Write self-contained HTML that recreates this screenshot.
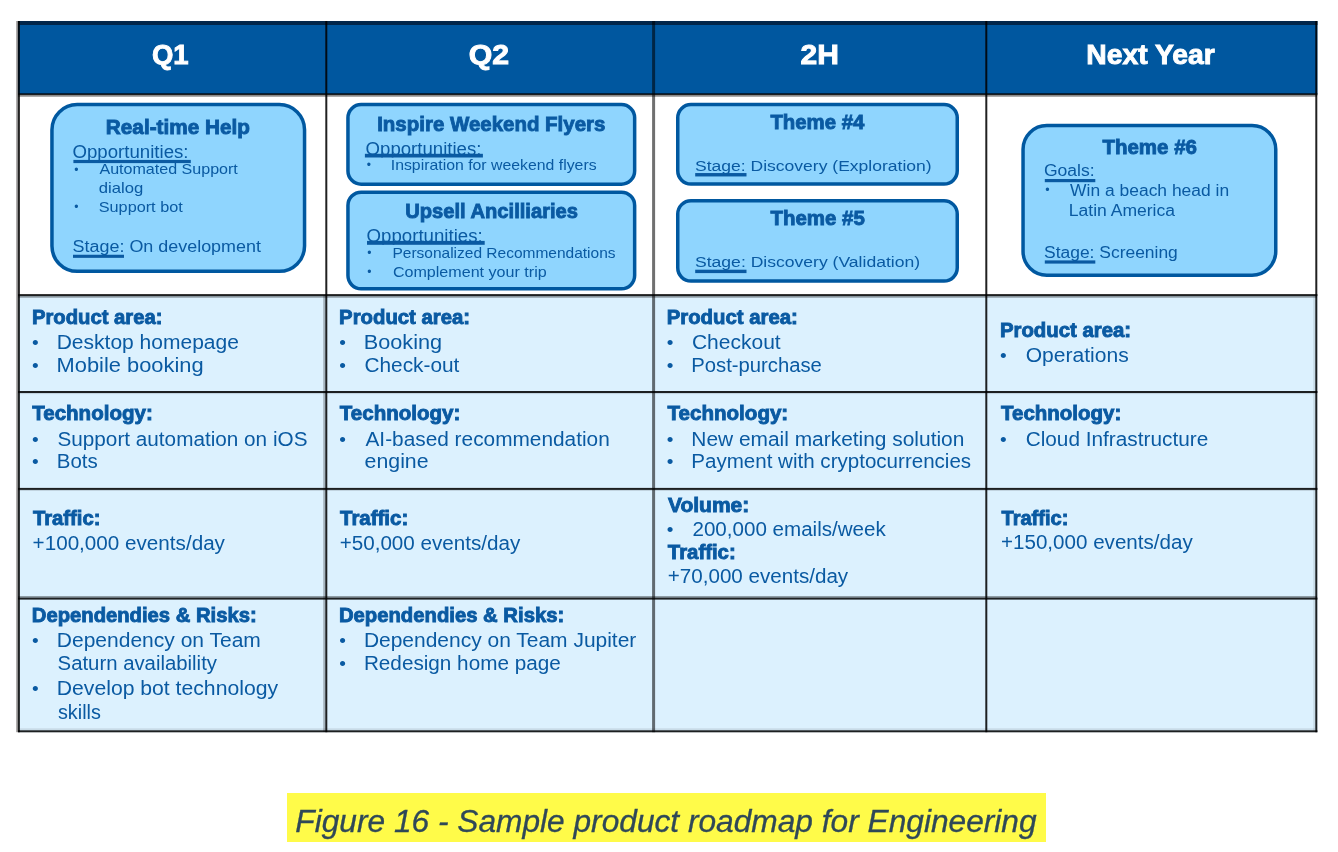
<!DOCTYPE html>
<html lang="en">
<head>
<meta charset="utf-8">
<title>Figure 16 - Sample product roadmap for Engineering</title>
<style>
html,body{margin:0;padding:0;background:#fff;}
body{width:1338px;height:852px;position:relative;overflow:hidden;font-family:"Liberation Sans",Arial,Helvetica,sans-serif;color:#0a5aa2;}
svg.g{position:absolute;left:0;top:0;}
.t{position:absolute;left:0;top:0;white-space:pre;line-height:1;transform-origin:0 0;}
.b{font-weight:700;-webkit-text-stroke:0.9px currentColor;}
.r{font-weight:400;}
.i{font-style:italic;font-weight:400;-webkit-text-stroke:0.3px currentColor;}
.cap{position:absolute;left:287px;top:793px;width:759px;height:48.6px;background:#fffb49;}
</style>
</head>
<body>
<svg class="g" width="1338" height="852" viewBox="0 0 1338 852">
<rect x="18" y="21" width="1299.4" height="73.3" fill="#00579f"/>
<rect x="18" y="94.3" width="1299.4" height="200.8" fill="#ffffff"/>
<rect x="18" y="295.1" width="1299.4" height="437.1" fill="#dcf1fe"/>
<rect x="51.95" y="104.55" width="252.60" height="166.80" rx="25.25" ry="25.25" fill="#8fd5fe" stroke="#0058a0" stroke-width="3.5"/>
<rect x="347.95" y="104.55" width="286.70" height="79.60" rx="13.25" ry="13.25" fill="#8fd5fe" stroke="#0058a0" stroke-width="3.5"/>
<rect x="347.95" y="192.15" width="286.70" height="96.70" rx="13.25" ry="13.25" fill="#8fd5fe" stroke="#0058a0" stroke-width="3.5"/>
<rect x="677.75" y="104.55" width="279.50" height="79.50" rx="13.25" ry="13.25" fill="#8fd5fe" stroke="#0058a0" stroke-width="3.5"/>
<rect x="677.75" y="200.75" width="279.50" height="80.30" rx="13.25" ry="13.25" fill="#8fd5fe" stroke="#0058a0" stroke-width="3.5"/>
<rect x="1023.05" y="125.45" width="252.70" height="149.70" rx="23.75" ry="23.75" fill="#8fd5fe" stroke="#0058a0" stroke-width="3.5"/>
<rect x="16.2" y="21" width="1.8" height="711.2" fill="#9c9a9a"/>
<rect x="18" y="95.2" width="1299" height="1.8" fill="#000" opacity=".32"/>
<rect x="18" y="296.0" width="1299" height="1.8" fill="#000" opacity=".32"/>
<rect x="18" y="392.9" width="1299" height="1.2" fill="#000" opacity=".12"/>
<rect x="18" y="489.79999999999995" width="1299" height="1.2" fill="#000" opacity=".12"/>
<rect x="18" y="596.0" width="1299" height="1.7" fill="#000" opacity=".35"/>
<rect x="323.2" y="295" width="2.2" height="437" fill="#000" opacity=".25"/>
<rect x="1313.2" y="295" width="2.1" height="436" fill="#000" opacity=".09"/>
<rect x="20" y="728.3" width="1295" height="2.1" fill="#000" opacity=".09"/>
<rect x="18" y="21" width="1299.4" height="4" fill="#02264a"/>
<rect x="17.90" y="21" width="2.0" height="711.2" fill="rgba(0,0,0,.87)"/>
<rect x="325.30" y="21" width="2.0" height="711.2" fill="rgba(0,0,0,.87)"/>
<rect x="652.10" y="21" width="3.0" height="711.2" fill="#000" opacity=".56"/>
<rect x="985.30" y="21" width="2.0" height="711.2" fill="rgba(0,0,0,.87)"/>
<rect x="1315.30" y="21" width="2.0" height="711.2" fill="rgba(0,0,0,.87)"/>
<rect x="18" y="93.30" width="1299.4" height="2.0" fill="rgba(0,0,0,.87)"/>
<rect x="18" y="294.10" width="1299.4" height="2.0" fill="rgba(0,0,0,.87)"/>
<rect x="18" y="391.00" width="1299.4" height="2.0" fill="rgba(0,0,0,.87)"/>
<rect x="18" y="487.90" width="1299.4" height="2.0" fill="rgba(0,0,0,.87)"/>
<rect x="18" y="597.60" width="1299.4" height="2.0" fill="rgba(0,0,0,.87)"/>
<rect x="18" y="730.30" width="1299.4" height="2.0" fill="rgba(0,0,0,.87)"/>
<rect x="73.4" y="159.90" width="117.40" height="3.2" fill="#0a5aa2"/>
<rect x="73" y="254.75" width="51.00" height="3.1" fill="#0a5aa2"/>
<rect x="364.9" y="153.80" width="118.00" height="3.7" fill="#0a5aa2"/>
<rect x="367" y="240.90" width="117.70" height="3.9" fill="#0a5aa2"/>
<rect x="695.2" y="173.05" width="51.30" height="3.4" fill="#0a5aa2"/>
<rect x="695.2" y="269.70" width="51.30" height="3.4" fill="#0a5aa2"/>
<rect x="1044.8" y="179.00" width="50.50" height="3.2" fill="#0a5aa2"/>
<rect x="1044.8" y="260.40" width="50.50" height="3.2" fill="#0a5aa2"/>
</svg>
<header>
<span class="t b" style="font-size:27px;color:#ffffff;transform:translate(151.93px,42.00px) scaleX(1.0179)">Q1</span>
<span class="t b" style="font-size:27px;color:#ffffff;transform:translate(468.76px,42.00px) scaleX(1.1197)">Q2</span>
<span class="t b" style="font-size:27px;color:#ffffff;transform:translate(800.56px,42.00px) scaleX(1.1114)">2H</span>
<span class="t b" style="font-size:27px;color:#ffffff;transform:translate(1086.28px,42.00px) scaleX(1.0479)">Next Year</span>
</header>
<section class="themes">
<span class="t b" style="font-size:21px;transform:translate(105.86px,116.00px) scaleX(0.9875)">Real-time Help</span>
<span class="t r" style="font-size:18px;transform:translate(72.52px,143.00px) scaleX(1.0350)">Opportunities:</span>
<span class="t r" style="font-size:14.2px;transform:translate(99.47px,162.00px) scaleX(1.1317)">Automated Support</span>
<span class="t r" style="font-size:14.2px;transform:translate(98.80px,181.00px) scaleX(1.1743)">dialog</span>
<span class="t r" style="font-size:14.2px;transform:translate(98.76px,200.00px) scaleX(1.1445)">Support bot</span>
<span class="t r" style="font-size:17.3px;transform:translate(72.59px,238.00px) scaleX(1.0373)">Stage: On development</span>
<span class="t b" style="font-size:21px;transform:translate(377.17px,113.00px) scaleX(0.9744)">Inspire Weekend Flyers</span>
<span class="t r" style="font-size:18px;clip-path:inset(0 0 0.50px 0);transform:translate(365.62px,140.00px) scaleX(1.0332)">Opportunities:</span>
<span class="t r" style="font-size:14.2px;transform:translate(390.74px,158.00px) scaleX(1.1154)">Inspiration for weekend flyers</span>
<span class="t b" style="font-size:21px;transform:translate(405.22px,200.00px) scaleX(0.9591)">Upsell Ancilliaries</span>
<span class="t r" style="font-size:18px;clip-path:inset(0 0 0.20px 0);transform:translate(366.62px,227.00px) scaleX(1.0359)">Opportunities:</span>
<span class="t r" style="font-size:14.2px;transform:translate(392.43px,246.00px) scaleX(1.0924)">Personalized Recommendations</span>
<span class="t r" style="font-size:14.2px;transform:translate(392.88px,265.00px) scaleX(1.1340)">Complement your trip</span>
<span class="t b" style="font-size:21px;transform:translate(770.41px,111.00px) scaleX(0.9698)">Theme #4</span>
<span class="t r" style="font-size:15.2px;transform:translate(695.00px,158.00px) scaleX(1.1539)">Stage: Discovery (Exploration)</span>
<span class="t b" style="font-size:21px;transform:translate(770.41px,207.00px) scaleX(0.9745)">Theme #5</span>
<span class="t r" style="font-size:15.2px;transform:translate(695.00px,254.00px) scaleX(1.1560)">Stage: Discovery (Validation)</span>
<span class="t b" style="font-size:21px;transform:translate(1102.41px,136.00px) scaleX(0.9763)">Theme #6</span>
<span class="t r" style="font-size:15.8px;transform:translate(1043.92px,163.00px) scaleX(1.1101)">Goals:</span>
<span class="t r" style="font-size:15.8px;transform:translate(1070.12px,183.00px) scaleX(1.1040)">Win a beach head in</span>
<span class="t r" style="font-size:15.8px;transform:translate(1068.76px,203.00px) scaleX(1.1099)">Latin America</span>
<span class="t r" style="font-size:15.8px;transform:translate(1044.01px,245.00px) scaleX(1.1041)">Stage: Screening</span>
</section>
<section class="details">
<span class="t b" style="font-size:20.5px;transform:translate(31.89px,307.00px) scaleX(0.9883)">Product area:</span>
<span class="t r" style="font-size:20px;transform:translate(56.68px,332.00px) scaleX(1.0508)">Desktop homepage</span>
<span class="t r" style="font-size:20px;transform:translate(56.61px,355.00px) scaleX(1.0927)">Mobile booking</span>
<span class="t b" style="font-size:20.5px;transform:translate(32.22px,403.00px) scaleX(1.0013)">Technology:</span>
<span class="t r" style="font-size:20px;transform:translate(57.46px,429.00px) scaleX(1.0362)">Support automation on iOS</span>
<span class="t r" style="font-size:20px;transform:translate(56.72px,451.00px) scaleX(1.0247)">Bots</span>
<span class="t b" style="font-size:20.5px;transform:translate(32.92px,508.00px) scaleX(0.9887)">Traffic:</span>
<span class="t r" style="font-size:20px;transform:translate(32.59px,533.00px) scaleX(1.0327)">+100,000 events/day</span>
<span class="t b" style="font-size:20.5px;transform:translate(31.79px,605.00px) scaleX(0.9871)">Dependendies &amp; Risks:</span>
<span class="t r" style="font-size:20px;transform:translate(56.78px,630.00px) scaleX(1.0509)">Dependency on Team</span>
<span class="t r" style="font-size:20px;transform:translate(57.58px,653.00px) scaleX(1.0167)">Saturn availability</span>
<span class="t r" style="font-size:20px;transform:translate(56.76px,678.00px) scaleX(1.0585)">Develop bot technology</span>
<span class="t r" style="font-size:20px;transform:translate(57.95px,702.00px) scaleX(0.9913)">skills</span>
<span class="t b" style="font-size:20.5px;transform:translate(339.09px,307.00px) scaleX(0.9914)">Product area:</span>
<span class="t r" style="font-size:20px;transform:translate(363.72px,332.00px) scaleX(1.0843)">Booking</span>
<span class="t r" style="font-size:20px;transform:translate(364.44px,355.00px) scaleX(1.0412)">Check-out</span>
<span class="t b" style="font-size:20.5px;transform:translate(339.82px,403.00px) scaleX(1.0005)">Technology:</span>
<span class="t r" style="font-size:20px;transform:translate(365.46px,429.00px) scaleX(1.0414)">AI-based recommendation</span>
<span class="t r" style="font-size:20px;transform:translate(364.60px,451.00px) scaleX(1.0647)">engine</span>
<span class="t b" style="font-size:20.5px;transform:translate(340.02px,508.00px) scaleX(0.9977)">Traffic:</span>
<span class="t r" style="font-size:20px;transform:translate(339.69px,533.00px) scaleX(1.0309)">+50,000 events/day</span>
<span class="t b" style="font-size:20.5px;transform:translate(338.89px,605.00px) scaleX(0.9889)">Dependendies &amp; Risks:</span>
<span class="t r" style="font-size:20px;transform:translate(363.88px,630.00px) scaleX(1.0488)">Dependency on Team Jupiter</span>
<span class="t r" style="font-size:20px;transform:translate(363.90px,653.00px) scaleX(1.0351)">Redesign home page</span>
<span class="t b" style="font-size:20.5px;transform:translate(666.69px,307.00px) scaleX(0.9922)">Product area:</span>
<span class="t r" style="font-size:20px;transform:translate(691.93px,332.00px) scaleX(1.0499)">Checkout</span>
<span class="t r" style="font-size:20px;transform:translate(691.34px,355.00px) scaleX(1.0123)">Post-purchase</span>
<span class="t b" style="font-size:20.5px;transform:translate(667.52px,403.00px) scaleX(1.0030)">Technology:</span>
<span class="t r" style="font-size:20px;transform:translate(691.29px,429.00px) scaleX(1.0453)">New email marketing solution</span>
<span class="t r" style="font-size:20px;transform:translate(691.31px,451.00px) scaleX(1.0275)">Payment with cryptocurrencies</span>
<span class="t b" style="font-size:20.5px;transform:translate(667.92px,495.00px) scaleX(1.0250)">Volume:</span>
<span class="t r" style="font-size:20px;transform:translate(692.47px,519.00px) scaleX(1.0288)">200,000 emails/week</span>
<span class="t b" style="font-size:20.5px;transform:translate(667.82px,542.00px) scaleX(0.9932)">Traffic:</span>
<span class="t r" style="font-size:20px;transform:translate(667.79px,566.00px) scaleX(1.0297)">+70,000 events/day</span>
<span class="t b" style="font-size:20.5px;transform:translate(999.89px,320.00px) scaleX(0.9930)">Product area:</span>
<span class="t r" style="font-size:20px;transform:translate(1025.70px,345.00px) scaleX(1.0523)">Operations</span>
<span class="t b" style="font-size:20.5px;transform:translate(1001.02px,403.00px) scaleX(0.9988)">Technology:</span>
<span class="t r" style="font-size:20px;transform:translate(1025.64px,429.00px) scaleX(1.0395)">Cloud Infrastructure</span>
<span class="t b" style="font-size:20.5px;transform:translate(1001.51px,508.00px) scaleX(0.9783)">Traffic:</span>
<span class="t r" style="font-size:20px;transform:translate(1000.99px,532.00px) scaleX(1.0294)">+150,000 events/day</span>
</section>
<section class="bullets">
<span class="t r" style="font-size:12px;transform:translate(74.33px,164.00px)">•</span>
<span class="t r" style="font-size:12px;transform:translate(74.33px,201.00px)">•</span>
<span class="t r" style="font-size:12px;transform:translate(366.73px,159.00px)">•</span>
<span class="t r" style="font-size:12px;transform:translate(367.23px,247.00px)">•</span>
<span class="t r" style="font-size:12px;transform:translate(367.23px,266.00px)">•</span>
<span class="t r" style="font-size:12.5px;transform:translate(1045.21px,184.00px)">•</span>
<span class="t r" style="font-size:19px;transform:translate(32.05px,333.00px)">•</span>
<span class="t r" style="font-size:19px;transform:translate(32.05px,356.00px)">•</span>
<span class="t r" style="font-size:19px;transform:translate(32.05px,430.00px)">•</span>
<span class="t r" style="font-size:19px;transform:translate(32.05px,452.00px)">•</span>
<span class="t r" style="font-size:19px;transform:translate(32.05px,631.00px)">•</span>
<span class="t r" style="font-size:19px;transform:translate(32.05px,679.00px)">•</span>
<span class="t r" style="font-size:19px;transform:translate(339.25px,333.00px)">•</span>
<span class="t r" style="font-size:19px;transform:translate(339.25px,356.00px)">•</span>
<span class="t r" style="font-size:19px;transform:translate(339.25px,430.00px)">•</span>
<span class="t r" style="font-size:19px;transform:translate(339.25px,631.00px)">•</span>
<span class="t r" style="font-size:19px;transform:translate(339.25px,654.00px)">•</span>
<span class="t r" style="font-size:19px;transform:translate(666.85px,333.00px)">•</span>
<span class="t r" style="font-size:19px;transform:translate(666.85px,356.00px)">•</span>
<span class="t r" style="font-size:19px;transform:translate(666.85px,430.00px)">•</span>
<span class="t r" style="font-size:19px;transform:translate(666.85px,452.00px)">•</span>
<span class="t r" style="font-size:19px;transform:translate(666.85px,520.00px)">•</span>
<span class="t r" style="font-size:19px;transform:translate(1000.05px,346.00px)">•</span>
<span class="t r" style="font-size:19px;transform:translate(1000.05px,430.00px)">•</span>
</section>
<footer>
<div class="cap"></div>
<span class="t i" style="font-size:31px;color:#2f4858;transform:translate(295.33px,806.00px) scaleX(1.0218)">Figure 16 - Sample product roadmap for Engineering</span>
</footer>
</body>
</html>
